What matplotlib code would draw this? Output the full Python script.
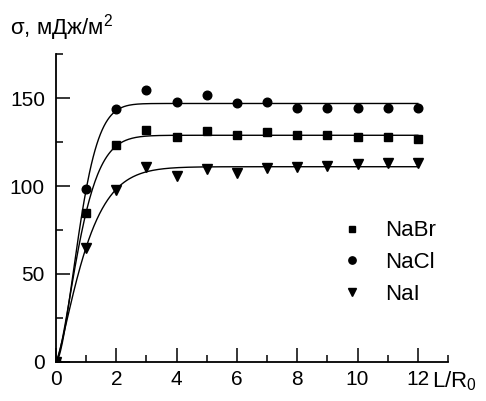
import numpy as np
import matplotlib
matplotlib.use("Agg")
import matplotlib.pyplot as plt
from matplotlib.ticker import MultipleLocator

plt.rcParams['font.family'] = ['Liberation Sans', 'DejaVu Sans']
plt.rcParams['mathtext.default'] = 'regular'

# measured surface energy vs. film thickness
L = [0, 1, 2, 3, 4, 5, 6, 7, 8, 9, 10, 11, 12]
nabr = [0, 84.7, 123.2, 132.1, 128.1, 131.4, 128.9, 130.8, 128.9, 128.9, 128.0, 128.0, 126.6]
nacl = [0, 98.4, 143.7, 154.6, 147.6, 151.7, 147.0, 147.9, 144.3, 144.3, 144.3, 144.3, 144.3]
nai = [0, 64.8, 98.0, 111.0, 106.0, 109.5, 107.6, 110.4, 111.0, 111.4, 112.3, 112.9, 113.3]

# fitted curves: sigma = s_inf * (1 - exp(-(L/l0)^n))
s_inf = {'NaBr': 128.9, 'NaCl': 147.0, 'NaI': 111.0}
l0 = {'NaBr': 0.95, 'NaCl': 0.946, 'NaI': 1.10}
n_exp = {'NaBr': 1.5, 'NaCl': 1.71, 'NaI': 1.29}

fig = plt.figure(figsize=(4.86, 4.01), dpi=100)
ax = fig.add_axes([0.1152, 0.098, 0.8066, 0.7666])

xf = np.linspace(0, 12, 400)
for name in ['NaBr', 'NaCl', 'NaI']:
    yf = s_inf[name] * (1 - np.exp(-(xf / l0[name]) ** n_exp[name]))
    ax.plot(xf, yf, color='black', lw=1.0, zorder=2)

ax.plot(L, nabr, 's', color='black', ms=5.2, ls='none', label='NaBr', zorder=3)
ax.plot(L, nacl, 'o', color='black', ms=6.2, ls='none', label='NaCl', zorder=3)
ax.plot(L, nai, 'v', color='black', ms=6.5, ls='none', label='NaI', zorder=3)

ax.set_xlim(0, 13)
ax.set_ylim(0, 175)
ax.spines['top'].set_visible(False)
ax.spines['right'].set_visible(False)
for s in ['left', 'bottom']:
    ax.spines[s].set_linewidth(1.3)

ax.xaxis.set_major_locator(MultipleLocator(2))
ax.xaxis.set_minor_locator(MultipleLocator(1))
ax.yaxis.set_major_locator(MultipleLocator(50))
ax.yaxis.set_minor_locator(MultipleLocator(25))
ax.set_xticks(range(0, 13, 2))
ax.tick_params(which='both', direction='in', width=1.1, labelsize=15)
ax.tick_params(which='major', length=10)
ax.tick_params(which='minor', length=5)
ax.tick_params(axis='x', pad=6)
ax.tick_params(axis='y', pad=8)

ax.text(13.2, -14.8, 'L/R$_0$', fontsize=16, ha='center', va='baseline', clip_on=False)
fig.text(0.02, 0.915, '\u03c3, мДж/м$^2$', fontsize=16)

leg = ax.legend(loc='upper left', bbox_to_anchor=(0.727, 0.46), frameon=False,
                fontsize=16, handlelength=1.0, handletextpad=1.0, labelspacing=0.48,
                borderpad=0, borderaxespad=0, markerscale=0.85)

fig.savefig('out.png', dpi=100)
